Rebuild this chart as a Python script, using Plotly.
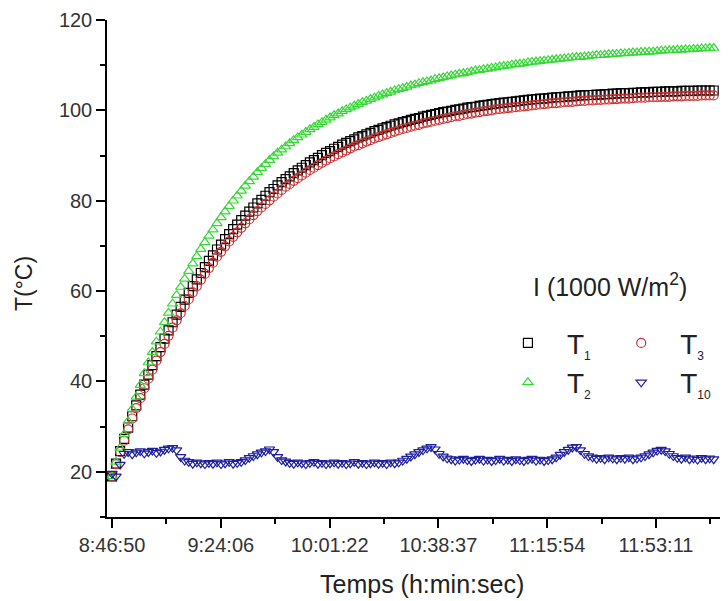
"""Temperature rise under 1000 W/m2 irradiance - T1, T2, T3, T10 vs time."""

import pandas as pd
import plotly.graph_objects as go

# Logger: first sample at 8:46:50, one sample every 83 s
SAMPLE_START = "2000-01-01 08:46:50"
SAMPLE_STEP_S = 83

T1 = [
    19.0, 21.8, 24.6, 27.3, 29.8, 32.3, 34.7, 37.1, 39.3, 41.5,
    43.6, 45.6, 47.6, 49.5, 51.3, 53.1, 54.8, 56.5, 58.1, 59.6,
    61.1, 62.6, 64.0, 65.3, 66.7, 67.9, 69.2, 70.3, 71.5, 72.6,
    73.7, 74.7, 75.7, 76.7, 77.6, 78.5, 79.4, 80.2, 81.1, 81.9,
    82.6, 83.4, 84.1, 84.8, 85.4, 86.1, 86.7, 87.3, 87.9, 88.5,
    89.0, 89.5, 90.1, 90.6, 91.0, 91.5, 91.9, 92.4, 92.8, 93.2,
    93.6, 94.0, 94.3, 94.7, 95.0, 95.4, 95.7, 96.0, 96.3, 96.6,
    96.9, 97.1, 97.4, 97.6, 97.9, 98.1, 98.3, 98.6, 98.8, 99.0,
    99.2, 99.4, 99.6, 99.7, 99.9, 100.1, 100.2, 100.4, 100.6, 100.7,
    100.8, 101.0, 101.1, 101.2, 101.4, 101.5, 101.6, 101.7, 101.8, 101.9,
    102.0, 102.1, 102.2, 102.3, 102.4, 102.5, 102.6, 102.6, 102.7, 102.8,
    102.9, 102.9, 103.0, 103.1, 103.1, 103.2, 103.3, 103.3, 103.4, 103.4,
    103.5, 103.5, 103.6, 103.6, 103.7, 103.7, 103.8, 103.8, 103.8, 103.9,
    103.9, 104.0, 104.0, 104.0, 104.1, 104.1, 104.1, 104.2, 104.2, 104.2,
    104.2, 104.3, 104.3, 104.3, 104.3, 104.4, 104.4, 104.4, 104.4, 104.4,
]

T2 = [
    19.0, 22.2, 25.3, 28.3, 31.2, 33.9, 36.6, 39.2, 41.8, 44.2,
    46.5, 48.8, 51.0, 53.1, 55.2, 57.2, 59.1, 60.9, 62.7, 64.4,
    66.1, 67.7, 69.3, 70.8, 72.2, 73.6, 75.0, 76.3, 77.6, 78.8,
    80.0, 81.1, 82.2, 83.3, 84.3, 85.3, 86.3, 87.2, 88.1, 89.0,
    89.8, 90.6, 91.3, 92.0, 92.7, 93.4, 94.0, 94.6, 95.2, 95.8,
    96.3, 96.9, 97.4, 97.9, 98.4, 98.9, 99.3, 99.8, 100.2, 100.6,
    101.0, 101.4, 101.8, 102.1, 102.5, 102.8, 103.2, 103.5, 103.8, 104.1,
    104.4, 104.7, 104.9, 105.2, 105.5, 105.7, 106.0, 106.2, 106.4, 106.6,
    106.9, 107.1, 107.3, 107.5, 107.7, 107.9, 108.1, 108.2, 108.4, 108.6,
    108.8, 108.9, 109.1, 109.2, 109.4, 109.5, 109.7, 109.8, 109.9, 110.1,
    110.2, 110.3, 110.4, 110.6, 110.7, 110.8, 110.9, 111.0, 111.1, 111.2,
    111.3, 111.4, 111.5, 111.6, 111.7, 111.8, 111.8, 111.9, 112.0, 112.1,
    112.2, 112.2, 112.3, 112.4, 112.4, 112.5, 112.6, 112.6, 112.7, 112.8,
    112.8, 112.9, 112.9, 113.0, 113.0, 113.1, 113.2, 113.2, 113.3, 113.3,
    113.4, 113.4, 113.5, 113.5, 113.6, 113.6, 113.7, 113.7, 113.8, 113.8,
]

T3 = [
    19.0, 21.7, 24.4, 26.9, 29.4, 31.8, 34.1, 36.3, 38.5, 40.6,
    42.6, 44.6, 46.5, 48.3, 50.1, 51.9, 53.5, 55.1, 56.7, 58.2,
    59.7, 61.1, 62.5, 63.8, 65.1, 66.3, 67.6, 68.7, 69.9, 71.0,
    72.0, 73.0, 74.0, 75.0, 75.9, 76.8, 77.7, 78.5, 79.3, 80.1,
    80.9, 81.6, 82.4, 83.1, 83.7, 84.4, 85.0, 85.6, 86.2, 86.8,
    87.3, 87.9, 88.4, 88.9, 89.4, 89.8, 90.3, 90.7, 91.1, 91.6,
    92.0, 92.3, 92.7, 93.1, 93.4, 93.8, 94.1, 94.4, 94.7, 95.0,
    95.3, 95.6, 95.9, 96.1, 96.4, 96.6, 96.8, 97.1, 97.3, 97.5,
    97.7, 97.9, 98.1, 98.3, 98.5, 98.7, 98.8, 99.0, 99.2, 99.3,
    99.5, 99.6, 99.8, 99.9, 100.0, 100.2, 100.3, 100.4, 100.5, 100.6,
    100.7, 100.8, 100.9, 101.0, 101.1, 101.2, 101.3, 101.4, 101.5, 101.6,
    101.6, 101.7, 101.8, 101.9, 101.9, 102.0, 102.1, 102.1, 102.2, 102.2,
    102.3, 102.3, 102.4, 102.4, 102.5, 102.5, 102.6, 102.6, 102.6, 102.7,
    102.8, 102.8, 102.8, 102.9, 102.9, 102.9, 103.0, 103.0, 103.0, 103.1,
    103.1, 103.1, 103.2, 103.2, 103.2, 103.2, 103.3, 103.3, 103.3, 103.3,
]

T10 = [
    19.6, 19.0, 21.6, 24.0, 24.4, 23.9, 24.3, 24.6, 24.1, 24.4,
    24.7, 24.2, 24.5, 24.9, 25.2, 25.3, 24.8, 23.3, 22.5, 22.2,
    21.8, 22.1, 21.9, 21.7, 22.0, 21.8, 22.1, 21.7, 21.9, 22.2,
    21.8, 22.0, 22.2, 22.6, 23.1, 23.5, 23.9, 24.3, 24.6, 25.0,
    24.4, 23.3, 22.6, 22.3, 22.0, 21.8, 22.1, 21.9, 21.7, 22.0,
    22.2, 21.8, 22.0, 21.7, 21.9, 22.1, 21.8, 22.0, 21.7, 21.9,
    22.2, 21.8, 22.0, 21.7, 21.9, 22.1, 21.8, 22.0, 21.7, 22.1,
    21.9, 22.1, 22.5, 22.9, 23.4, 23.9, 24.4, 24.8, 25.2, 25.5,
    25.0, 24.0, 23.4, 23.0, 22.8, 22.5, 22.7, 22.9, 22.6, 22.4,
    22.7, 22.9, 22.5, 22.7, 22.4, 22.6, 22.9, 22.5, 22.7, 22.4,
    22.8, 22.6, 22.4, 22.7, 22.9, 22.5, 22.7, 22.4, 22.6, 22.8,
    23.2, 23.8, 24.4, 24.9, 25.4, 25.5, 24.8, 24.0, 23.5, 23.2,
    22.9, 23.1, 22.8, 23.2, 23.0, 22.8, 23.1, 22.9, 23.2, 22.8,
    23.0, 23.2, 23.5, 23.9, 24.3, 24.7, 24.9, 24.6, 24.0, 23.5,
    23.1, 22.9, 23.2, 22.8, 23.0, 22.7, 23.1, 22.8, 23.0, 22.8,
]

TICK_TIMES = ["08:46:50", "09:24:06", "10:01:22", "10:38:37", "11:15:54", "11:53:11"]
TICK_LABELS = ["8:46:50", "9:24:06", "10:01:22", "10:38:37", "11:15:54", "11:53:11"]
MINOR_TIMES = ["09:05:28", "09:42:44", "10:20:00", "10:57:15", "11:34:32", "12:11:49"]

FONT = "Liberation Sans, Arial, sans-serif"

times = pd.date_range(SAMPLE_START, periods=len(T1), freq=f"{SAMPLE_STEP_S}s")
day = SAMPLE_START.split(" ")[0]


def sub_name(index):
    # big T with a small, low subscript as in the original legend
    return f'T<sub><span style="font-size:12px">{index}</span></sub>'


series = [
    # name, values, symbol, colour, legend
    (sub_name(1), T1, "square-open", "#000000", "legend"),
    (sub_name(3), T3, "circle-open", "#c83232", "legend2"),
    (sub_name(2), T2, "triangle-up-open", "#36d836", "legend"),
    (sub_name(10), T10, "triangle-down-open", "#1e1ea0", "legend2"),
]

fig = go.Figure()
for name, values, symbol, color, legend in series:
    fig.add_trace(
        go.Scatter(
            x=times,
            y=values,
            mode="markers",
            name=name,
            legend=legend,
            marker=dict(symbol=symbol, size=9, color=color, line=dict(width=1.2, color=color)),
        )
    )

legend_style = dict(
    xanchor="left",
    yanchor="top",
    bgcolor="rgba(0,0,0,0)",
    font=dict(family=FONT, size=28, color="#222"),
    itemsizing="trace",
    itemwidth=68,
    tracegroupgap=0,
    traceorder="normal",
)

# page body has an 8 px margin, so the figure is made 8 px smaller and offset
fig.update_layout(
    width=720,
    height=593,
    margin=dict(l=99, r=2, t=12, b=84),
    paper_bgcolor="white",
    plot_bgcolor="white",
    font=dict(family=FONT, color="#333"),
    showlegend=True,
    legend=dict(x=0.617, y=0.40, **legend_style),
    legend2=dict(x=0.800, y=0.40, **legend_style),
    xaxis=dict(
        type="date",
        range=[f"{day} 08:45:07", f"{day} 12:17:10"],
        tickvals=[f"{day} {t}" for t in TICK_TIMES],
        ticktext=TICK_LABELS,
        ticks="outside",
        ticklen=9,
        tickwidth=1.5,
        tickcolor="black",
        minor=dict(
            tickvals=[f"{day} {t}" for t in MINOR_TIMES],
            ticks="outside",
            ticklen=5,
            tickwidth=1.5,
            tickcolor="black",
        ),
        showline=True,
        linecolor="black",
        linewidth=1.5,
        showgrid=False,
        zeroline=False,
        automargin=False,
        tickfont=dict(family=FONT, size=20, color="#333"),
    ),
    yaxis=dict(
        range=[10, 120],
        tickvals=[20, 40, 60, 80, 100, 120],
        ticks="outside",
        ticklen=9,
        tickwidth=1.5,
        tickcolor="black",
        minor=dict(dtick=10, tick0=0, ticks="outside", ticklen=5, tickwidth=1.5, tickcolor="black"),
        showline=True,
        linecolor="black",
        linewidth=1.5,
        showgrid=False,
        zeroline=False,
        automargin=False,
        tickfont=dict(family=FONT, size=20, color="#333"),
    ),
    annotations=[
        dict(
            text="I (1000 W/m<sup>2</sup>)",
            xref="paper", yref="paper", x=0.8126, y=0.4668,
            xanchor="center", yanchor="middle",
            showarrow=False, font=dict(family=FONT, size=25, color="#222"),
        ),
        dict(
            text="Temps (h:min:sec)",
            xref="paper", yref="paper", x=0.509, y=-0.1348,
            xanchor="center", yanchor="middle",
            showarrow=False, font=dict(family=FONT, size=25, color="#222"),
        ),
        dict(
            text="T(°C)",
            xref="paper", yref="paper", x=-0.134, y=0.4688, textangle=-90,
            xanchor="center", yanchor="middle",
            showarrow=False, font=dict(family=FONT, size=23, color="#222"),
        ),
    ],
)

fig.write_html("out.html")
